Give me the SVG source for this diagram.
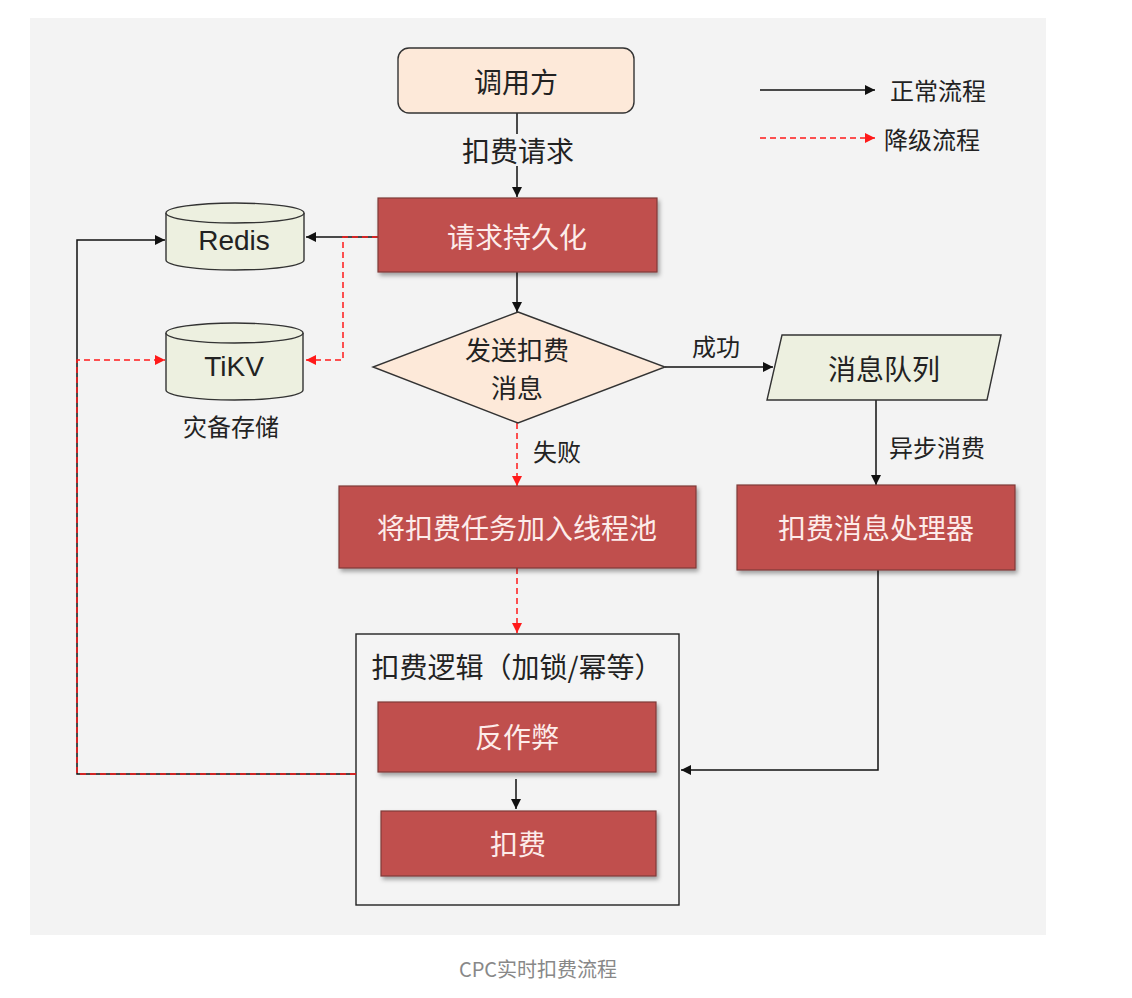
<svg xmlns="http://www.w3.org/2000/svg" width="1132" height="998" viewBox="0 0 1132 998">
<style>
text{font-family:"Noto Sans CJK SC","Liberation Sans",sans-serif;text-anchor:middle;dominant-baseline:central}
.red{fill:#c0504d;stroke:#7f3a38;stroke-width:1.2;filter:url(#sh)}
.wt{fill:#fdecea;font-size:28px}
.bk{fill:#222;font-size:28px}
.lbl{fill:#222;font-size:24px}
.ln{fill:none;stroke:#111;stroke-width:1.5}
.rd{fill:none;stroke:#ff1a1a;stroke-width:1.5;stroke-dasharray:6 4}
.cyl{fill:#edf0e0;stroke:#333;stroke-width:1.4}
</style>
<defs>
<filter id="sh" x="-10%" y="-10%" width="130%" height="140%">
<feDropShadow dx="2" dy="3" stdDeviation="2" flood-color="#000" flood-opacity="0.35"/>
</filter>
<marker id="ab" viewBox="0 0 10 10" refX="10" refY="5" markerWidth="10" markerHeight="10" markerUnits="userSpaceOnUse" orient="auto">
<path d="M0,0 L10,5 L0,10 z" fill="#111"/>
</marker>
<marker id="ar" viewBox="0 0 10 10" refX="10" refY="5" markerWidth="10" markerHeight="10" markerUnits="userSpaceOnUse" orient="auto">
<path d="M0,0 L10,5 L0,10 z" fill="#ff1a1a"/>
</marker>
</defs>
<rect x="0" y="0" width="1132" height="998" fill="#ffffff"/>
<rect x="30" y="18" width="1016" height="917" fill="#f3f3f3"/>

<g id="legend">
<line x1="760" y1="90" x2="875" y2="90" class="ln" marker-end="url(#ab)"/>
<text x="938" y="89" class="lbl">正常流程</text>
<line x1="760" y1="138" x2="875" y2="138" class="rd" marker-end="url(#ar)"/>
<text x="932" y="138" class="lbl">降级流程</text>
</g>

<g id="logic">
<rect x="356" y="634" width="323" height="271" fill="#f4f4f4" stroke="#222" stroke-width="1.4"/>
<text x="517" y="666" class="bk">扣费逻辑（加锁/幂等）</text>
</g>

<g id="connectors">
<line x1="517" y1="113" x2="517" y2="197" class="ln" marker-end="url(#ab)"/>
<line x1="517" y1="272" x2="517" y2="312" class="ln" marker-end="url(#ab)"/>
<line x1="378" y1="237" x2="306" y2="237" class="ln" marker-end="url(#ab)"/>
<polyline points="378,237 343,237 343,360 306,360" class="rd" marker-end="url(#ar)"/>
<line x1="665" y1="367" x2="773" y2="367" class="ln" marker-end="url(#ab)"/>
<line x1="876" y1="400" x2="876" y2="485" class="ln" marker-end="url(#ab)"/>
<line x1="517" y1="423" x2="517" y2="486" class="rd" marker-end="url(#ar)"/>
<line x1="517" y1="568" x2="517" y2="633" class="rd" marker-end="url(#ar)"/>
<polyline points="878,570 878,770 681,770" class="ln" marker-end="url(#ab)"/>
<polyline points="356,774 77,774 77,240 165,240" class="ln" marker-end="url(#ab)"/>
<polyline points="356,774 77,774 77,360 165,360" class="rd" marker-end="url(#ar)"/>
<line x1="516" y1="779" x2="516" y2="809" class="ln" marker-end="url(#ab)"/>
</g>

<g id="label-request"><rect x="455" y="134" width="125" height="32" fill="#f3f3f3"/><text x="518" y="150" class="bk">扣费请求</text></g>
<g id="label-success"><text x="716" y="345" class="lbl">成功</text></g>
<g id="label-fail"><text x="557" y="450" class="lbl">失败</text></g>
<g id="label-async"><text x="937" y="446" class="lbl">异步消费</text></g>

<g id="caller">
<rect x="398" y="48" width="236" height="65" rx="11" fill="#fde9d9" stroke="#333" stroke-width="1.4"/>
<text x="516" y="81" class="bk">调用方</text>
</g>

<g id="persist">
<rect x="378" y="198" width="279" height="74" class="red"/>
<text x="517" y="236" class="wt">请求持久化</text>
</g>

<g id="redis">
<path d="M166,213 L166,260 A69,10 0 0 0 304,260 L304,213" class="cyl"/>
<ellipse cx="235" cy="213" rx="69" ry="10" class="cyl"/>
<text x="234" y="240" class="bk" style="font-family:'Liberation Sans','Noto Sans',sans-serif">Redis</text>
</g>

<g id="tikv">
<path d="M166,333 L166,390 A68.5,10 0 0 0 303,390 L303,333" class="cyl"/>
<ellipse cx="234.5" cy="333" rx="68.5" ry="10" class="cyl"/>
<text x="234" y="366" class="bk" style="font-family:'Liberation Sans','Noto Sans',sans-serif">TiKV</text>
<text x="231" y="425" class="lbl">灾备存储</text>
</g>

<g id="decision">
<polygon points="518,312 665,367 518,423 373,367" fill="#fde9d9" stroke="#333" stroke-width="1.4"/>
<text x="517" y="348" class="bk" style="font-size:26px">发送扣费</text>
<text x="517" y="386" class="bk" style="font-size:26px">消息</text>
</g>

<g id="queue">
<polygon points="782,335 1001,335 987,400 767,400" fill="#edf0e0" stroke="#333" stroke-width="1.4"/>
<text x="884" y="368" class="bk">消息队列</text>
</g>

<g id="processor">
<rect x="737" y="485" width="278" height="85" class="red"/>
<text x="876" y="527" class="wt">扣费消息处理器</text>
</g>

<g id="threadpool">
<rect x="339" y="486" width="357" height="82" class="red"/>
<text x="517" y="527" class="wt">将扣费任务加入线程池</text>
</g>

<g id="anticheat">
<rect x="378" y="702" width="278" height="70" class="red"/>
<text x="517" y="736" class="wt">反作弊</text>
</g>

<g id="charge">
<rect x="381" y="811" width="275" height="65" class="red"/>
<text x="518" y="843" class="wt">扣费</text>
</g>

<g id="caption">
<text x="538" y="968" style="font-size:20px;fill:#888">CPC实时扣费流程</text>
</g>
</svg>
